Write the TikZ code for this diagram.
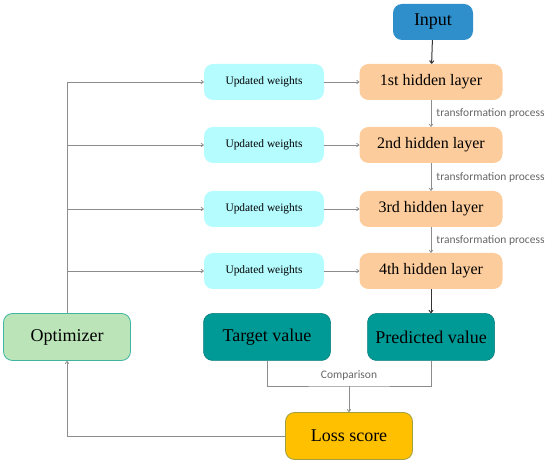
\documentclass[tikz,border=0pt]{standalone}
\usepackage{fontspec}
\setmainfont{Liberation Serif}
\newfontfamily\lblfont{Carlito}
\usetikzlibrary{arrows.meta}
\definecolor{inblue}{HTML}{2F8FCB}
\definecolor{peach}{HTML}{FDCC9C}
\definecolor{cyanl}{HTML}{B5FCFF}
\definecolor{optg}{HTML}{BBE4B8}
\definecolor{optb}{HTML}{3FB5A2}
\definecolor{tealv}{HTML}{009A96}
\definecolor{lossy}{HTML}{FFC000}
\definecolor{lossb}{HTML}{A0A040}
\definecolor{lgray}{HTML}{8C8C8C}
\begin{document}
\begin{tikzpicture}[x=1pt,y=-1pt,
  box/.style={rounded corners=9pt, align=center, inner sep=0pt},
  inbox/.style={box, fill=inblue, minimum width=80pt, minimum height=36pt, font=\fontsize{18}{20}\selectfont},
  hid/.style={box, fill=peach, minimum width=143pt, minimum height=36pt, font=\fontsize{16}{18}\selectfont},
  upd/.style={box, fill=cyanl, minimum width=120pt, minimum height=36pt, font=\fontsize{11.4}{13}\selectfont},
  big/.style={box, minimum width=127pt, minimum height=47pt, font=\fontsize{18}{20}\selectfont},
  garr/.style={draw=lgray, line width=0.8pt, -{To[length=3pt,width=4pt]}},
  gline/.style={draw=lgray, line width=0.8pt},
  barr/.style={draw=black!80, line width=1pt, -{To[length=3.5pt,width=5pt]}},
  lbl/.style={font=\lblfont\fontsize{11.5}{13}\selectfont, text=black!60, inner sep=0pt}
]
\useasboundingbox (0,0) rectangle (550,465);
\node[inbox] (in) at (433,22) {Input};
\node[hid] (h1) at (431,82) {1st hidden layer};
\node[hid] (h2) at (431,145) {2nd hidden layer};
\node[hid] (h3) at (431,209) {3rd hidden layer};
\node[hid] (h4) at (431,271) {4th hidden layer};
\node[upd] (u1) at (264,82) {Updated weights};
\node[upd] (u2) at (264,145) {Updated weights};
\node[upd] (u3) at (264,209) {Updated weights};
\node[upd] (u4) at (264,271) {Updated weights};
\node[big, fill=optg, draw=optb, line width=0.8pt] (opt) at (67,337) {Optimizer};
\node[big, fill=tealv, draw=tealv!80!black, line width=0.5pt] (tv) at (267,337) {Target value};
\node[big, fill=tealv, draw=tealv!80!black, line width=0.5pt] (pv) at (431,337) {Predicted value};
\node[big, fill=lossy, draw=lossb, line width=0.8pt] (loss) at (349,436) {Loss score};

\draw[barr] (in) -- (h1);
\draw[barr] (h4) -- (pv);
\draw[garr] (h1) -- (h2) node[lbl, midway, anchor=west, xshift=5pt] {transformation process};
\draw[garr] (h2) -- (h3) node[lbl, midway, anchor=west, xshift=5pt] {transformation process};
\draw[garr] (h3) -- (h4) node[lbl, midway, anchor=west, xshift=5pt] {transformation process};

\foreach \i in {1,2,3,4}{
  \draw[garr] (u\i) -- (h\i);
}
\coordinate (ltop) at (67,82);
\draw[gline] (opt.north) -- (ltop);
\draw[garr] (ltop) -- (u1);
\draw[garr] (67,145) -- (u2);
\draw[garr] (67,209) -- (u3);
\draw[garr] (67,271) -- (u4);

\coordinate (cmp) at (349,386);
\draw[gline] (tv.south) |- (cmp) -| (pv.south);
\node[lbl] (cmplbl) at (349,375) {Comparison};
\draw[garr] (cmp) -- (loss.north);
\draw[garr] (loss.west) -| (opt.south);
\end{tikzpicture}
\end{document}
